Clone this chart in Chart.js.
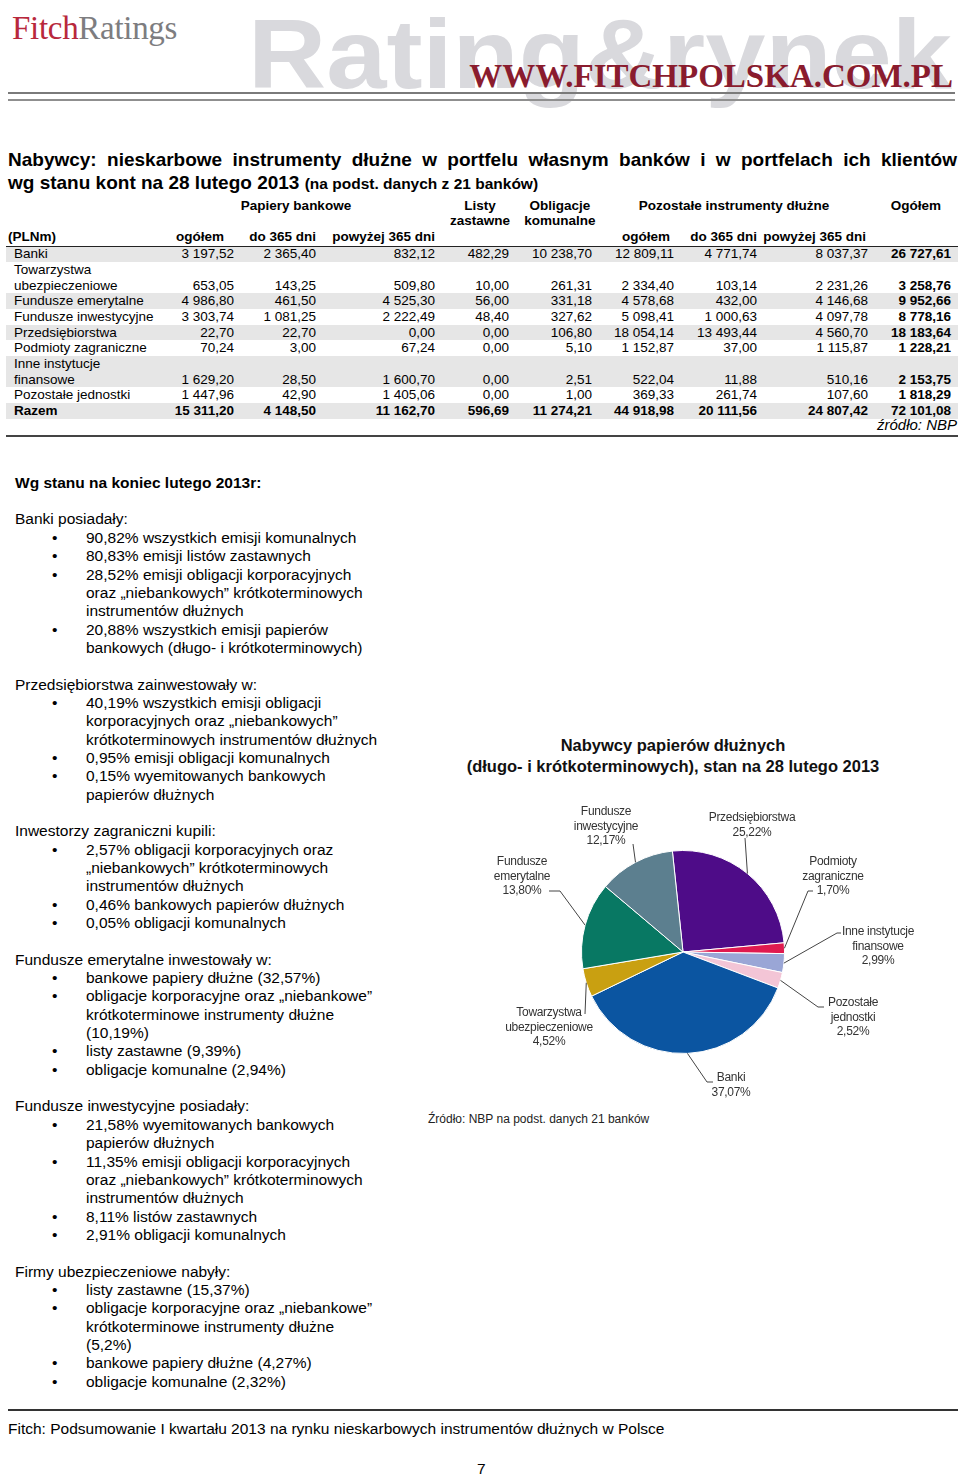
<!DOCTYPE html>
<html>
<head>
<meta charset="utf-8">
<script src="https://cdn.jsdelivr.net/npm/chart.js@4.4.1/dist/chart.umd.min.js"></script>
<style>
  body { margin: 0; background: #fff; font-family: "Liberation Sans", Arial, sans-serif; color: #000; }
  #page { position: relative; width: 960px; height: 1476px; overflow: hidden; }
  .abs { position: absolute; white-space: nowrap; }
  .cell { position: absolute; white-space: nowrap; font-size: 13.5px; line-height: 16px; height: 16px; }
  .body { position: absolute; left: 15px; top: 473.8px; font-size: 15.5px; line-height: 18.35px; }
  .body .li { position: relative; padding-left: 71px; white-space: nowrap; }
  .body .li::before { content: "\2022"; position: absolute; left: 37px; }
  .body .p { white-space: nowrap; }
  .body .gap { height: 18.35px; }
</style>
</head>
<body>
<div id="page">
  <!-- naglowek -->
  <div id="wm" class="abs" style="left:248px;top:4px;font-size:99px;line-height:99px;font-weight:bold;color:#d9d9dd;transform-origin:0 0;">Rating&amp;rynek</div>
  <div class="abs" style="left:12px;top:12px;font-family:'Liberation Serif',serif;font-size:33px;line-height:33px;letter-spacing:-0.3px;"><span style="color:#b8283c">Fitch</span><span style="color:#7d7d80">Ratings</span></div>
  <div class="abs" style="right:7px;top:60px;font-family:'Liberation Serif',serif;font-weight:bold;font-size:33px;line-height:33px;color:#8a1c2e;letter-spacing:0px;">WWW.FITCHPOLSKA.COM.PL</div>
  <div class="abs" style="left:8px;top:92px;width:947px;height:2px;background:#7a7a7a;"></div>
  <div class="abs" style="left:8px;top:99px;width:947px;height:2px;background:#8f8f8f;"></div>

  <!-- tytul -->
  <div class="abs" style="left:8px;top:149px;width:949px;font-size:19px;line-height:22px;font-weight:bold;white-space:normal;text-align:justify;text-align-last:justify;">Nabywcy: nieskarbowe instrumenty dłużne w portfelu własnym banków i w portfelach ich klientów</div>
  <div class="abs" style="left:8px;top:172px;font-size:19px;line-height:22px;font-weight:bold;">wg stanu kont na 28 lutego 2013 <span style="font-size:15.5px">(na podst. danych z 21 banków)</span></div>

  <div id="table"></div>

  <div class="body">
    <div class="p" style="font-weight:bold">Wg stanu na koniec lutego 2013r:</div>
    <div class="gap"></div>
    <div class="p">Banki posiadały:</div>
    <div class="li">90,82% wszystkich emisji komunalnych</div>
    <div class="li">80,83% emisji listów zastawnych</div>
    <div class="li">28,52% emisji obligacji korporacyjnych<br>oraz „niebankowych” krótkoterminowych<br>instrumentów dłużnych</div>
    <div class="li">20,88% wszystkich emisji papierów<br>bankowych (długo- i krótkoterminowych)</div>
    <div class="gap"></div>
    <div class="p">Przedsiębiorstwa zainwestowały w:</div>
    <div class="li">40,19% wszystkich emisji obligacji<br>korporacyjnych oraz „niebankowych”<br>krótkoterminowych instrumentów dłużnych</div>
    <div class="li">0,95% emisji obligacji komunalnych</div>
    <div class="li">0,15% wyemitowanych bankowych<br>papierów dłużnych</div>
    <div class="gap"></div>
    <div class="p">Inwestorzy zagraniczni kupili:</div>
    <div class="li">2,57% obligacji korporacyjnych oraz<br>„niebankowych” krótkoterminowych<br>instrumentów dłużnych</div>
    <div class="li">0,46% bankowych papierów dłużnych</div>
    <div class="li">0,05% obligacji komunalnych</div>
    <div class="gap"></div>
    <div class="p">Fundusze emerytalne inwestowały w:</div>
    <div class="li">bankowe papiery dłużne (32,57%)</div>
    <div class="li">obligacje korporacyjne oraz „niebankowe”<br>krótkoterminowe instrumenty dłużne<br>(10,19%)</div>
    <div class="li">listy zastawne (9,39%)</div>
    <div class="li">obligacje komunalne (2,94%)</div>
    <div class="gap"></div>
    <div class="p">Fundusze inwestycyjne posiadały:</div>
    <div class="li">21,58% wyemitowanych bankowych<br>papierów dłużnych</div>
    <div class="li">11,35% emisji obligacji korporacyjnych<br>oraz „niebankowych” krótkoterminowych<br>instrumentów dłużnych</div>
    <div class="li">8,11% listów zastawnych</div>
    <div class="li">2,91% obligacji komunalnych</div>
    <div class="gap"></div>
    <div class="p">Firmy ubezpieczeniowe nabyły:</div>
    <div class="li">listy zastawne (15,37%)</div>
    <div class="li">obligacje korporacyjne oraz „niebankowe”<br>krótkoterminowe instrumenty dłużne<br>(5,2%)</div>
    <div class="li">bankowe papiery dłużne (4,27%)</div>
    <div class="li">obligacje komunalne (2,32%)</div>
  </div>

  <!-- wykres -->
  <div class="abs" style="left:420px;width:506px;top:735px;text-align:center;font-size:16.5px;line-height:21px;font-weight:bold;color:#111;">Nabywcy papierów dłużnych<br>(długo- i krótkoterminowych), stan na 28 lutego 2013</div>
  <canvas id="pie" width="520" height="320" style="position:absolute;left:420px;top:790px;width:520px;height:320px;"></canvas>
  <div class="abs" style="left:428px;top:1111px;font-size:12px;line-height:16px;color:#222;">Źródło: NBP na podst. danych 21 banków</div>

  <!-- stopka -->
  <div class="abs" style="left:8px;top:1409px;width:950px;height:1.5px;background:#333;"></div>
  <div class="abs" style="left:8px;top:1419px;font-size:15.5px;line-height:20px;">Fitch: Podsumowanie I kwartału 2013 na rynku nieskarbowych instrumentów dłużnych w Polsce</div>
  <div class="abs" style="left:477px;top:1462px;font-size:15.5px;line-height:13px;">7</div>
</div>

<script>
// tabela (PLNm)
var rowNames = [["Banki"], ["Towarzystwa", "ubezpieczeniowe"], ["Fundusze emerytalne"], ["Fundusze inwestycyjne"],
  ["Przedsiębiorstwa"], ["Podmioty zagraniczne"], ["Inne instytucje", "finansowe"], ["Pozostałe jednostki"], ["Razem"]];
var papieryOgolem = [3197.52, 653.05, 4986.80, 3303.74, 22.70, 70.24, 1629.20, 1447.96, 15311.20];
var papieryDo365 = [2365.40, 143.25, 461.50, 1081.25, 22.70, 3.00, 28.50, 42.90, 4148.50];
var papieryPow365 = [832.12, 509.80, 4525.30, 2222.49, 0.00, 67.24, 1600.70, 1405.06, 11162.70];
var listyZastawne = [482.29, 10.00, 56.00, 48.40, 0.00, 0.00, 0.00, 0.00, 596.69];
var oblKomunalne = [10238.70, 261.31, 331.18, 327.62, 106.80, 5.10, 2.51, 1.00, 11274.21];
var pozostaleOgolem = [12809.11, 2334.40, 4578.68, 5098.41, 18054.14, 1152.87, 522.04, 369.33, 44918.98];
var pozostaleDo365 = [4771.74, 103.14, 432.00, 1000.63, 13493.44, 37.00, 11.88, 261.74, 20111.56];
var pozostalePow365 = [8037.37, 2231.26, 4146.68, 4097.78, 4560.70, 1115.87, 510.16, 107.60, 24807.42];
var ogolem = [26727.61, 3258.76, 9952.66, 8778.16, 18183.64, 1228.21, 2153.75, 1818.29, 72101.08];

// wykres kolowy: udzialy w %
var pieLabels = [["Przedsiębiorstwa"], ["Podmioty", "zagraniczne"], ["Inne instytucje", "finansowe"], ["Pozostałe", "jednostki"],
  ["Banki"], ["Towarzystwa", "ubezpieczeniowe"], ["Fundusze", "emerytalne"], ["Fundusze", "inwestycyjne"]];
var pieShares = [25.22, 1.70, 2.99, 2.52, 37.07, 4.52, 13.80, 12.17];
var pieColors = ["#4e0c88", "#e01a4f", "#9aa6d6", "#f3c5d6", "#0b55a1", "#c9a011", "#087863", "#5c7f8f"];

// znak wodny dopasowany do szerokosci
var wm = document.getElementById("wm");
wm.style.transform = "scaleX(" + (704 / wm.getBoundingClientRect().width) + ")";

function pl(v) {
  var s = v.toFixed(2).split(".");
  return s[0].replace(/\B(?=(\d{3})+(?!\d))/g, "\u00a0") + "," + s[1];
}

var table = document.getElementById("table");
function put(text, x, y, align, extra) {
  var d = document.createElement("div");
  d.className = "cell";
  d.textContent = text;
  d.style.top = (y - 8) + "px";
  if (align == "right") d.style.right = (960 - x) + "px";
  else if (align == "center") { d.style.left = (x - 100) + "px"; d.style.width = "200px"; d.style.textAlign = "center"; }
  else d.style.left = x + "px";
  if (extra) d.style.cssText += extra;
  table.appendChild(d);
}
function band(y, h, css) {
  var d = document.createElement("div");
  d.style.cssText = "position:absolute;left:6px;width:952px;top:" + y + "px;height:" + h + "px;" + css;
  table.appendChild(d);
}

// naglowki
var hb = "font-weight:bold;";
put("Papiery bankowe", 296, 206, "center", hb);
put("Listy", 480, 206, "center", hb);
put("zastawne", 480, 221, "center", hb);
put("Obligacje", 560, 206, "center", hb);
put("komunalne", 560, 221, "center", hb);
put("Pozostałe instrumenty dłużne", 734, 206, "center", hb);
put("Ogółem", 916, 206, "center", hb);
put("(PLNm)", 8, 237, "left", hb);
put("ogółem", 200, 237, "center", hb);
put("do 365 dni", 316, 237, "right", hb);
put("powyżej 365 dni", 435, 237, "right", hb);
put("ogółem", 646, 237, "center", hb);
put("do 365 dni", 757, 237, "right", hb);
put("powyżej 365 dni", 866, 237, "right", hb);

var cols = [papieryOgolem, papieryDo365, papieryPow365, listyZastawne, oblKomunalne, pozostaleOgolem, pozostaleDo365, pozostalePow365, ogolem];
var colRight = [234, 316, 435, 509, 592, 674, 757, 868, 951];
var lineH = 15.65, y0 = 246.5;
var y = y0;
for (var r = 0; r < rowNames.length; r++) {
  var n = rowNames[r].length;
  if (r % 2 == 0) band(y, n * lineH, "background:#e6e6e6;");
  var last = r == rowNames.length - 1;
  for (var k = 0; k < n; k++) put(rowNames[r][k], 14, y + lineH * k + 7.8, "left", last ? hb : "");
  var cy = y + lineH * (n - 1) + 7.8;
  for (var c = 0; c < cols.length; c++) {
    put(pl(cols[c][r]), colRight[c], cy, "right", (last || c == cols.length - 1) ? hb : "");
  }
  y += n * lineH;
}
band(245.5, 1.3, "background:#222;");
put("źródło: NBP", 957, 425, "right", "font-style:italic;font-size:15px;");
band(435, 1.6, "background:#444;");

// etykiety z liniami odniesienia (przesuniecia wzgledem srodka kola)
var labelLayout = [
  { tx: 69, ty: -134, path: [[62, -114]] },
  { tx: 150, ty: -90, path: [[125, -61], [130, -61]] },
  { tx: 195, ty: -20, path: [[154, -19], [158, -19]] },
  { tx: 170, ty: 51, path: [[135, 55], [141, 55]] },
  { tx: 48, ty: 126, path: [[24, 130], [30, 130]] },
  { tx: -134, ty: 61, path: [[-98, 62]] },
  { tx: -161, ty: -90, path: [[-123, -61], [-134, -61]] },
  { tx: -77, ty: -140, path: [[-50, -108]] }
];

var leaderLabels = {
  id: "leaderLabels",
  afterDatasetsDraw: function(chart) {
    var ctx = chart.ctx;
    var arcs = chart.getDatasetMeta(0).data;
    ctx.save();
    ctx.font = '12px "Liberation Sans", Arial, sans-serif';
    ctx.letterSpacing = "-0.3px";
    ctx.textAlign = "center";
    ctx.textBaseline = "middle";
    arcs.forEach(function(a, i) {
      var p = a.getProps(["x", "y", "startAngle", "endAngle", "outerRadius"], true);
      var mid = (p.startAngle + p.endAngle) / 2;
      var L = labelLayout[i];
      ctx.strokeStyle = "#444";
      ctx.lineWidth = 1;
      ctx.beginPath();
      ctx.moveTo(p.x + Math.cos(mid) * p.outerRadius, p.y + Math.sin(mid) * p.outerRadius);
      L.path.forEach(function(q) { ctx.lineTo(p.x + q[0], p.y + q[1]); });
      ctx.stroke();
      ctx.fillStyle = "#333";
      var lines = pieLabels[i].concat([pieShares[i].toFixed(2).replace(".", ",") + "%"]);
      lines.forEach(function(t, k) { ctx.fillText(t, p.x + L.tx, p.y + L.ty + k * 14.2); });
    });
    ctx.restore();
  }
};

new Chart(document.getElementById("pie"), {
  type: "pie",
  data: {
    labels: pieLabels.map(function(l) { return l.join(" "); }),
    datasets: [{ data: pieShares, backgroundColor: pieColors, borderColor: "#fff", borderWidth: 1 }]
  },
  options: {
    responsive: false,
    animation: false,
    rotation: -6,
    layout: { padding: { left: 161, right: 155, top: 60, bottom: 56 } },
    plugins: { legend: { display: false }, tooltip: { enabled: false } }
  },
  plugins: [leaderLabels]
});
</script>
</body>
</html>
